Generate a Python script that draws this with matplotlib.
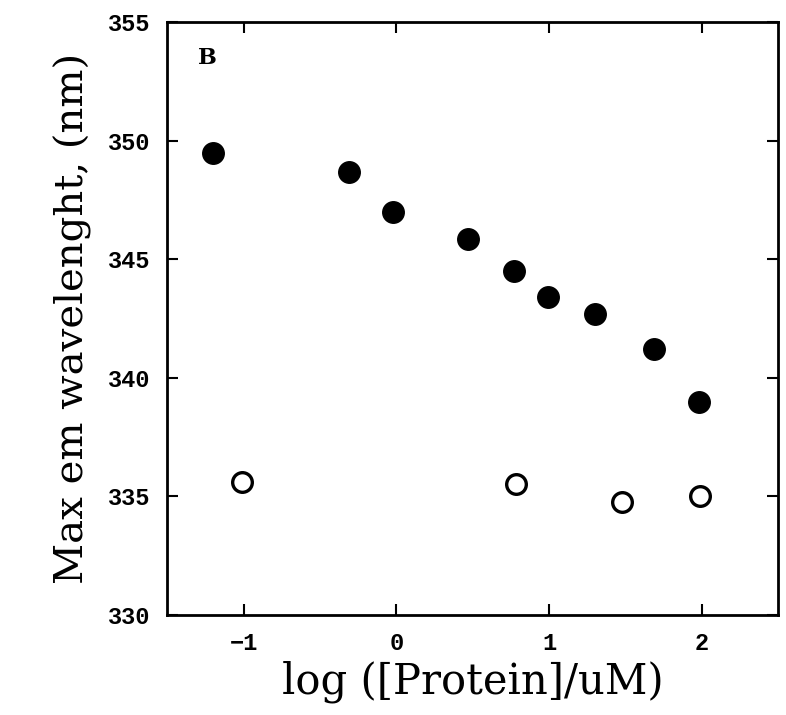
import matplotlib
matplotlib.use("Agg")
import matplotlib.pyplot as plt

# Data
filled_x = [-1.20, -0.31, -0.02, 0.47, 0.77, 0.99, 1.30, 1.69, 1.98]
filled_y = [349.5, 348.7, 347.0, 345.85, 344.5, 343.4, 342.7, 341.2, 339.0]
open_x = [-1.01, 0.78, 1.48, 1.99]
open_y = [335.6, 335.5, 334.75, 335.0]
x_ticks = [-1, 0, 1, 2]
y_ticks = [330, 335, 340, 345, 350, 355]

fig = plt.figure(figsize=(7.86, 7.15), dpi=100)
ax = fig.add_axes([0.213, 0.140, 0.777, 0.829])

ax.scatter(filled_x, filled_y, s=240, c="black", marker="o", zorder=3)
ax.scatter(open_x, open_y, s=200, facecolors="white", edgecolors="black",
           linewidths=2.4, marker="o", zorder=3)

ax.set_xlim(-1.5, 2.5)
ax.set_ylim(330, 355)
ax.set_xticks(x_ticks)
ax.set_yticks(y_ticks)
ax.set_xticklabels(["\u22121", "0", "1", "2"])

ax.tick_params(direction="in", length=8, width=1.5, top=True, right=True,
               labelsize=17, pad=12)
for lab in ax.get_xticklabels() + ax.get_yticklabels():
    lab.set_family("Liberation Mono")
    lab.set_fontweight("bold")

for sp in ax.spines.values():
    sp.set_linewidth(2)

ax.set_xlabel("log ([Protein]/uM)", fontsize=30, family="DejaVu Serif", labelpad=4)
ax.set_ylabel("Max em wavelenght, (nm)", fontsize=29, family="DejaVu Serif", labelpad=12)

ax.text(0.05, 0.93, "B", transform=ax.transAxes, fontsize=16,
        family="DejaVu Serif", fontweight="bold")

fig.savefig("out.png", dpi=100)
